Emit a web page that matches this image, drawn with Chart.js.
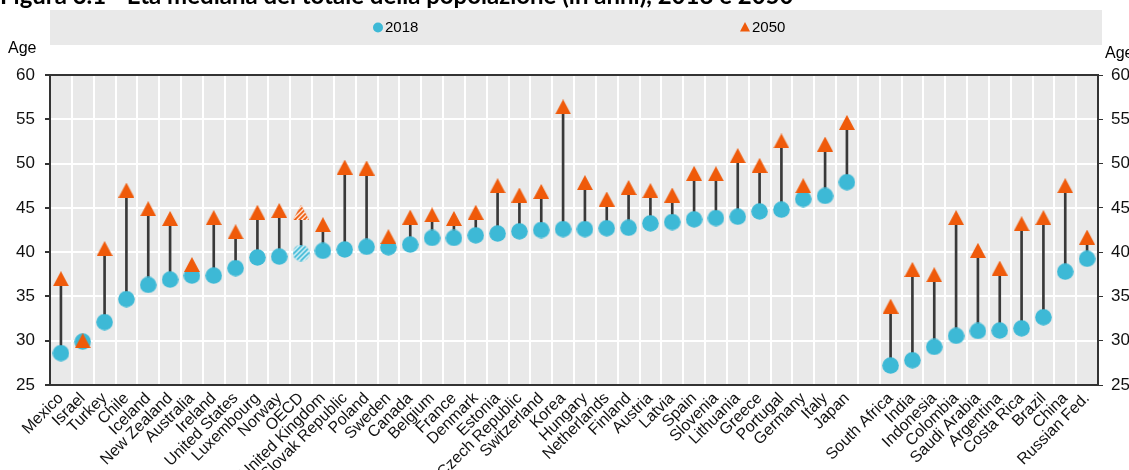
<!DOCTYPE html>
<html>
<head>
<meta charset="utf-8">
<script src="https://cdn.jsdelivr.net/npm/chart.js@4.4.1/dist/chart.umd.min.js"></script>
<style>
  html, body { margin: 0; padding: 0; background: #ffffff; }
  #wrap { width: 1129px; height: 470px; position: relative; }
</style>
</head>
<body>
<div id="wrap"><canvas id="c" width="1129" height="470"></canvas></div>
<script>
const countries = ["Mexico","Israel","Turkey","Chile","Iceland","New Zealand","Australia","Ireland","United States","Luxembourg","Norway","OECD","United Kingdom","Slovak Republic","Poland","Sweden","Canada","Belgium","France","Denmark","Estonia","Czech Republic","Switzerland","Korea","Hungary","Netherlands","Finland","Austria","Latvia","Spain","Slovenia","Lithuania","Greece","Portugal","Germany","Italy","Japan","","South Africa","India","Indonesia","Colombia","Saudi Arabia","Argentina","Costa Rica","Brazil","China","Russian Fed."];
const age2018 = [28.6,29.9,32.1,34.7,36.3,36.9,37.35,37.35,38.2,39.4,39.5,39.9,40.15,40.3,40.6,40.55,40.85,41.6,41.6,41.9,42.1,42.35,42.5,42.6,42.6,42.7,42.75,43.25,43.4,43.7,43.85,44.0,44.6,44.8,46.0,46.35,47.9,null,27.2,27.8,29.3,30.55,31.1,31.15,31.4,32.65,37.8,39.25];
const age2050 = [37.0,30.0,40.4,47.0,44.9,43.8,38.6,43.9,42.3,44.5,44.7,44.5,43.1,49.6,49.5,41.75,43.95,44.2,43.8,44.5,47.5,46.45,46.85,56.4,47.85,46.0,47.3,46.95,46.45,48.9,48.85,50.9,49.8,52.55,47.5,52.2,54.65,null,33.9,38.05,37.45,43.9,40.2,38.2,43.2,43.9,47.5,41.7];
const seriesNames = ["2018","2050"];
const yTicks = [25,30,35,40,45,50,55,60];
const titleText = "Figura 3.1 - Età mediana del totale della popolazione (in anni), 2018 e 2050";
const highlight = "OECD";

const BLUE = "#3DB9D6";
const ORANGE = "#EF5A0A";
const NARROW = "'Liberation Sans Narrow', 'Arial Narrow', 'Liberation Sans', Arial, sans-serif";

function makeCanvas(w, h) { const c = document.createElement('canvas'); c.width = w; c.height = h; return c; }
function triCanvas(hatched) {
  const c = makeCanvas(16, 15), g = c.getContext('2d');
  g.beginPath(); g.moveTo(8, 0); g.lineTo(16, 15); g.lineTo(0, 15); g.closePath();
  g.fillStyle = ORANGE; g.fill();
  if (hatched) {
    g.save(); g.clip(); g.strokeStyle = '#ffffff'; g.lineWidth = 1.3;
    for (let k = -20; k < 40; k += 4.6) { g.beginPath(); g.moveTo(k, 16); g.lineTo(k + 16, 0); g.stroke(); }
    g.restore();
  }
  return c;
}
function circCanvas(hatched) {
  const c = makeCanvas(17, 17), g = c.getContext('2d');
  g.beginPath(); g.arc(8.5, 8.5, 8.3, 0, Math.PI * 2); g.fillStyle = BLUE; g.fill();
  if (hatched) {
    g.save(); g.clip(); g.strokeStyle = '#ffffff'; g.lineWidth = 1.3;
    for (let k = -20; k < 40; k += 4.8) { g.beginPath(); g.moveTo(k, 18); g.lineTo(k + 18, 0); g.stroke(); }
    g.restore();
  }
  return c;
}
const triPlain = triCanvas(false), triHatch = triCanvas(true);
const circPlain = circCanvas(false), circHatch = circCanvas(true);

const decor = {
  id: 'decor',
  beforeDraw(chart) {
    const { ctx, chartArea: a } = chart;
    ctx.save();
    ctx.fillStyle = '#e9e9e9';
    ctx.fillRect(a.left, a.top, a.right - a.left, a.bottom - a.top);
    // legend box
    ctx.fillRect(50, 10, 1052, 35);
    ctx.beginPath(); ctx.arc(378, 27.5, 5, 0, Math.PI * 2); ctx.fillStyle = BLUE; ctx.fill();
    ctx.beginPath(); ctx.moveTo(745, 22); ctx.lineTo(750, 31.5); ctx.lineTo(740, 31.5); ctx.closePath(); ctx.fillStyle = ORANGE; ctx.fill();
    ctx.fillStyle = '#000'; ctx.font = '15px ' + NARROW; ctx.textBaseline = 'middle'; ctx.textAlign = 'left';
    ctx.fillText(seriesNames[0], 385, 28);
    ctx.fillText(seriesNames[1], 752, 28);
    // title (cut at top)
    ctx.font = 'bold 24px Lato, "Open Sans", sans-serif'; ctx.textBaseline = 'alphabetic';
    ctx.fillText(titleText, 0, 4);
    // Age labels
    ctx.font = '16px ' + NARROW; ctx.textBaseline = 'middle';
    ctx.fillText('Age', 8, 49);
    ctx.fillText('Age', 1105, 54);
    ctx.restore();
  },
  afterDraw(chart) {
    const { ctx, chartArea: a } = chart;
    ctx.save();
    ctx.strokeStyle = '#333333'; ctx.lineWidth = 2;
    ctx.strokeRect(a.left, a.top, a.right - a.left, a.bottom - a.top);
    ctx.restore();
  }
};

new Chart(document.getElementById('c'), {
  data: {
    labels: countries,
    datasets: [
      {
        type: 'line', label: seriesNames[1], data: age2050, order: 0, showLine: false,
        pointStyle: c => countries[c.dataIndex] === highlight ? triHatch : triPlain,
        pointRadius: 8, pointHoverRadius: 8, backgroundColor: ORANGE, borderColor: ORANGE, yAxisID: 'y'
      },
      {
        type: 'line', label: seriesNames[0], data: age2018, order: 1, showLine: false,
        pointStyle: c => countries[c.dataIndex] === highlight ? circHatch : circPlain,
        pointRadius: 8, pointHoverRadius: 8, backgroundColor: BLUE, borderColor: BLUE, yAxisID: 'y'
      },
      {
        type: 'bar', label: 'range', order: 2, yAxisID: 'y',
        data: age2018.map((v, i) => (v === null ? null : [v, age2050[i]])),
        backgroundColor: '#383838', barThickness: 2
      }
    ]
  },
  options: {
    responsive: false, animation: false,
    layout: { padding: { top: 75, left: 0, right: 0, bottom: 0 } },
    plugins: { legend: { display: false }, tooltip: { enabled: false } },
    scales: {
      x: {
        type: 'category', offset: true,
        grid: { offset: true, color: '#ffffff', lineWidth: 2, drawTicks: false },
        border: { display: false },
        ticks: { autoSkip: false, maxRotation: 45, minRotation: 45, color: '#111', padding: 4, font: { family: NARROW, size: 16 } },
        afterFit: s => { s.height = 85; }
      },
      y: {
        position: 'left', min: 25, max: 60,
        afterBuildTicks: s => { s.ticks = yTicks.map(v => ({ value: v })); },
        grid: { color: '#ffffff', lineWidth: 2, tickColor: '#333', tickLength: 5 },
        border: { display: false },
        ticks: { color: '#111', padding: 10, font: { family: NARROW, size: 17 } },
        afterFit: s => { s.width = 50; }
      },
      y2: {
        position: 'right', min: 25, max: 60,
        afterBuildTicks: s => { s.ticks = yTicks.map(v => ({ value: v })); },
        grid: { drawOnChartArea: false, tickColor: '#333', tickLength: 5 },
        border: { display: false },
        ticks: { color: '#111', padding: 8, font: { family: NARROW, size: 17 } },
        afterFit: s => { s.width = 31; }
      }
    }
  },
  plugins: [decor]
});
</script>
</body>
</html>
